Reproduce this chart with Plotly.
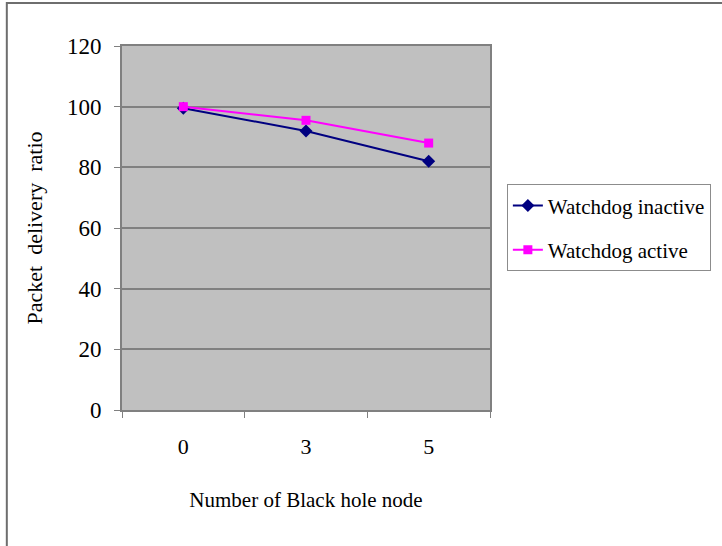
import plotly.graph_objects as go

# Number of black hole nodes in the network
black_hole_nodes = ["0", "3", "5"]

# Packet delivery ratio (%) for each configuration
pdr_watchdog_inactive = [99.5, 92, 82]
pdr_watchdog_active = [100, 95.5, 88]

y_ticks = [0, 20, 40, 60, 80, 100, 120]

SERIF = '"Liberation Serif", serif'

fig = go.Figure()

fig.add_trace(go.Scatter(
    x=black_hole_nodes, y=pdr_watchdog_inactive,
    name="Watchdog inactive", legendgroup="inactive",
    mode="lines+markers",
    line=dict(color="#000080", width=2),
    marker=dict(symbol="diamond", size=10, color="#000080"),
))
fig.add_trace(go.Scatter(
    x=black_hole_nodes, y=pdr_watchdog_active,
    name="Watchdog active", legendgroup="active",
    mode="lines+markers",
    line=dict(color="#FF00FF", width=2),
    marker=dict(symbol="square", size=9, color="#FF00FF"),
))

# Outer frame around the whole chart
fig.add_shape(
    type="rect", xref="paper", yref="paper",
    x0=-0.313, x1=1.8, y0=-0.6, y1=1.118,
    line=dict(color="#6e6e6e", width=2), fillcolor="rgba(0,0,0,0)",
    layer="below",
)

fig.update_layout(
    width=722, height=546,
    margin=dict(l=122, r=231, t=46, b=136),
    paper_bgcolor="white",
    plot_bgcolor="#C0C0C0",
    font=dict(family=SERIF, size=20, color="black"),
    showlegend=True,
    legend=dict(
        x=1.043, xanchor="left", y=0.62, yanchor="top",
        bgcolor="white", bordercolor="#8c8c8c", borderwidth=1,
        font=dict(family=SERIF, size=21, color="black"),
        tracegroupgap=14,
    ),
    xaxis=dict(
        type="category",
        categoryorder="array", categoryarray=black_hole_nodes,
        range=[-0.5, 2.5],
        tickson="boundaries", ticks="outside", ticklen=6,
        tickcolor="#808080", tickwidth=1,
        showgrid=False, zeroline=False,
        showline=True, linecolor="#808080", linewidth=2, mirror=True,
        ticklabelstandoff=16,
        tickfont=dict(family=SERIF, size=22, color="black"),
        title=dict(text="Number of Black hole node", standoff=34,
                   font=dict(family=SERIF, size=21, color="black")),
    ),
    yaxis=dict(
        range=[0, 120], tickvals=y_ticks,
        ticks="outside", ticklen=6, tickcolor="#808080", tickwidth=1,
        showgrid=True, gridcolor="#808080", gridwidth=1.5,
        zeroline=False,
        showline=True, linecolor="#808080", linewidth=2, mirror=True,
        ticklabelstandoff=8,
        tickfont=dict(family=SERIF, size=23, color="black"),
        title=dict(text="Packet\u00a0\u00a0delivery\u00a0\u00a0ratio", standoff=18,
                   font=dict(family=SERIF, size=22, color="black")),
    ),
)

fig.write_html("out.html")
